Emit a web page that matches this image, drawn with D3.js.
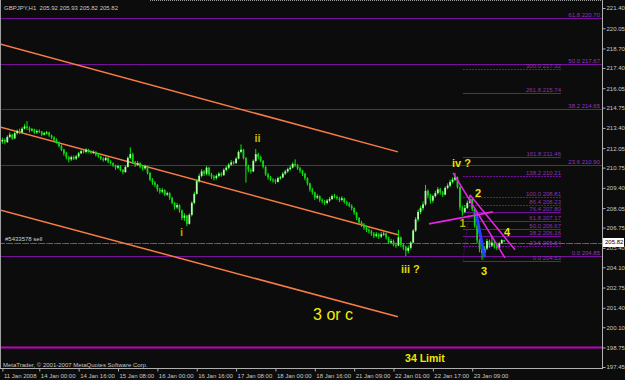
<!DOCTYPE html>
<html>
<head>
<meta charset="utf-8">
<script src="https://cdn.jsdelivr.net/npm/d3@7"></script>
<style>
html, body { margin: 0; padding: 0; background: #0b0c0b; }
svg { display: block; font-family: "Liberation Sans", Arial, sans-serif; }
</style>
</head>
<body>
<div id="chart"></div>
<script>

// ---- bars (GBPJPY H1), open = previous close ----
var firstOpen = 212.50;

var closes = [
	212.60,212.45,212.80,212.95,212.70,213.05,213.20,213.10,213.35,213.50,
	213.40,213.25,213.30,213.10,213.20,213.15,212.95,213.05,213.10,212.90,
	212.75,212.60,212.45,212.20,211.95,211.70,211.45,211.30,211.45,211.35,
	211.50,211.70,211.85,211.80,211.95,211.85,211.75,211.80,211.60,211.50,
	211.35,211.25,211.40,211.15,211.05,210.90,210.75,210.85,210.60,210.45,
	210.80,211.40,211.65,211.10,210.95,211.05,210.80,210.70,210.85,210.40,
	209.95,209.75,209.60,209.30,209.15,209.25,208.95,209.05,208.75,208.40,
	208.10,208.25,207.90,207.40,207.55,207.00,207.60,208.40,209.00,209.85,
	210.20,210.50,210.35,210.75,210.30,210.15,210.05,210.20,210.35,210.25,
	210.60,210.75,210.95,211.10,211.05,211.35,211.80,211.95,211.40,210.85,
	210.60,210.50,211.20,211.65,211.45,211.20,210.80,210.30,210.10,209.95,
	209.90,209.80,210.05,210.10,210.35,210.50,210.65,210.75,211.00,210.90,
	210.70,210.55,210.35,210.05,209.70,209.30,209.10,208.75,208.85,208.60,
	208.50,208.40,208.55,208.65,208.85,208.80,208.70,208.60,208.70,208.45,
	208.35,208.20,208.05,207.75,207.40,207.10,206.95,206.75,206.60,206.50,
	206.35,206.20,206.30,206.15,206.30,206.35,206.10,205.75,205.85,205.60,
	205.55,206.10,205.60,205.45,205.20,205.40,205.75,206.55,207.30,207.80,
	208.05,208.30,209.20,208.90,208.55,208.85,209.05,209.30,209.10,208.95,
	209.40,209.55,209.80,209.95,210.10,209.45,208.10,207.80,208.05,208.40,
	208.65,208.00,206.90,205.90,205.30,205.05,205.35,205.85,205.55,205.75,
	205.50,205.40,205.70,205.92,205.82
];

var highs = [
	212.75,212.70,212.90,213.10,213.00,213.15,213.30,213.35,213.45,213.65,
	213.85,213.50,213.40,213.35,213.30,213.30,213.20,213.15,213.20,213.15,
	212.95,212.85,212.70,212.50,212.30,212.00,211.80,211.55,211.55,211.55,
	211.60,211.80,211.95,211.95,212.05,212.00,211.90,211.90,211.85,211.70,
	211.55,211.45,211.50,211.45,211.25,211.10,210.95,210.95,210.90,210.65,
	210.90,211.50,212.10,211.75,211.20,211.20,211.10,210.90,210.95,210.90,
	210.45,210.05,209.85,209.65,209.40,209.40,209.30,209.15,209.10,208.80,
	208.45,208.40,208.30,207.95,207.70,207.60,207.70,208.50,209.15,209.95,
	210.35,210.65,210.60,210.85,210.80,210.40,210.25,210.30,210.45,210.45,
	210.70,210.85,211.05,211.25,211.20,211.45,211.90,212.30,212.00,211.45,
	210.95,210.70,211.30,212.00,211.75,211.55,211.25,210.85,210.40,210.20,
	210.05,210.00,210.15,210.20,210.45,210.60,210.75,210.90,211.10,211.30,
	211.00,210.80,210.60,210.40,210.10,209.75,209.40,209.15,209.00,208.90,
	208.70,208.60,208.65,208.80,208.95,209.00,208.90,208.80,208.85,208.75,
	208.55,208.45,208.30,208.10,207.80,207.45,207.20,207.05,206.85,206.70,
	206.60,206.45,206.45,206.40,206.45,206.50,206.40,206.15,206.00,205.95,
	205.75,206.60,206.15,205.70,205.55,205.55,205.85,206.65,207.45,207.95,
	208.20,208.50,209.60,209.30,209.00,208.95,209.20,209.45,209.40,209.20,
	209.50,209.70,209.95,210.10,210.40,210.15,209.50,208.20,208.25,208.55,
	208.90,208.70,208.05,207.00,206.00,205.40,205.50,206.00,205.95,206.20,
	205.85,205.60,205.80,205.98,205.93
];

var lows = [
	212.35,212.30,212.40,212.70,212.60,212.65,212.95,213.00,213.05,213.30,
	213.25,213.10,213.15,213.00,213.00,213.05,212.85,212.90,212.95,212.80,
	212.65,212.50,212.35,212.10,211.85,211.55,211.30,211.10,211.20,211.25,
	211.25,211.40,211.65,211.70,211.70,211.75,211.65,211.65,211.50,211.40,
	211.25,211.15,211.20,211.05,210.95,210.80,210.60,210.65,210.50,210.30,
	210.40,210.75,211.30,211.00,210.80,210.85,210.70,210.55,210.60,210.30,
	209.85,209.60,209.45,209.15,209.00,209.05,208.85,208.85,208.60,208.30,
	207.95,208.00,207.75,207.25,207.20,206.85,206.95,207.50,208.30,208.95,
	209.75,210.10,210.20,210.25,210.20,210.00,209.90,209.95,210.10,210.15,
	210.20,210.50,210.65,210.85,210.95,211.00,211.30,211.70,211.30,209.75,
	210.45,210.35,210.45,211.10,211.30,211.10,210.70,210.20,209.95,209.85,
	209.75,209.65,209.75,209.95,210.05,210.25,210.40,210.55,210.70,210.80,
	210.60,210.40,210.20,209.90,209.55,209.15,208.95,208.60,208.65,208.45,
	208.35,208.25,208.30,208.45,208.60,208.70,208.60,208.45,208.50,208.35,
	208.20,208.10,207.90,207.60,207.25,206.95,206.80,206.60,206.45,206.35,
	206.20,206.05,206.10,206.00,206.05,206.20,205.95,205.65,205.65,205.50,
	205.40,205.50,205.45,205.25,204.85,205.05,205.30,205.70,206.45,207.15,
	207.65,207.90,208.20,208.70,208.35,208.40,208.75,208.95,208.95,208.80,
	208.90,209.30,209.45,209.70,209.85,209.35,207.90,207.55,207.70,208.00,
	208.35,207.85,206.75,205.70,205.10,204.60,204.90,205.25,205.40,205.45,
	205.35,205.25,205.35,205.65,205.82
];

// ---- axes ----
var timeTicks = [0, 15, 31, 47, 63, 79, 95, 111, 127, 143, 159, 175, 191];
var timeLabels = ["11 Jan 2008", "14 Jan 00:00", "14 Jan 16:00", "15 Jan 08:00", "16 Jan 00:00",
	"16 Jan 16:00", "17 Jan 08:00", "18 Jan 00:00", "18 Jan 16:00", "21 Jan 09:00",
	"22 Jan 01:00", "22 Jan 17:00", "23 Jan 09:00"];
var priceTicks = [221.40, 220.05, 218.70, 217.40, 216.05, 214.75, 213.40, 212.05, 210.75,
	209.40, 208.05, 206.75, 205.40, 204.10, 202.75, 201.40, 200.10, 198.75, 197.45];

// ---- fibonacci objects ----
var fibWideLevels = ["61.8", "50.0", "38.2", "23.6", "0.0"];
var fibWidePrices = [220.70, 217.67, 214.65, 210.90, 204.85];
var fibShortLevels = ["300.0", "261.8", "161.8", "138.2", "100.0", "86.4", "76.4", "61.8", "50.0", "38.2", "23.6", "0.0"];
var fibShortPrices = [217.32, 215.74, 211.46, 210.21, 208.81, 208.23, 207.80, 207.17, 206.67, 206.16, 205.54, 204.53];
var fibShortSpan = [187.2, 227.1];

// ---- drawings, in [bar index, price] ----
var channelLines = [
	[[-1, 219.00], [160.8, 211.80]],
	[[-1, 213.47], [160.8, 206.27]],
	[[-1, 207.93], [160.8, 200.80]]
];
var magentaLines = [
	[[183.2, 210.40], [204.3, 204.73]],
	[[190.1, 208.93], [208.4, 205.27]],
	[[173.4, 207.00], [199.4, 207.80]]
];
var blueWave = [[192.4, 207.85], [196.1, 204.75]];
var fibBaseLine = [[190.1, 208.20], [187.2, 204.53]];

var limitPrice = 198.75;
var orderPrice = 205.73;
var lastPrice = 205.82;

var waveLabels = [
	{ text: "i", i: 72.2, p: 206.20, size: 11, color: "#b8a400" },
	{ text: "ii", i: 102.5, p: 212.47, size: 11, color: "#c8b400" },
	{ text: "iii ?", i: 162.0, p: 203.70, size: 11, color: "#e2d800" },
	{ text: "iv ?", i: 182.8, p: 210.77, size: 11, color: "#e8dc00" },
	{ text: "1", i: 185.8, p: 206.77, size: 11, color: "#c0b000" },
	{ text: "2", i: 192.1, p: 208.77, size: 11, color: "#f0e400" },
	{ text: "3", i: 194.6, p: 203.57, size: 11, color: "#f0e400" },
	{ text: "4", i: 203.9, p: 206.17, size: 11, color: "#f0e400" },
	{ text: "3 or c", i: 126.3, p: 200.60, size: 16, color: "#f2ee00", normal: true },
	{ text: "34 Limit", i: 163.7, p: 197.77, size: 10.5, color: "#f0e800" }
];

// ---- chart ----
var W = 625, H = 380;
var plotRight = 602, plotBottom = 368;

var x = d3.scaleLinear().domain([0, 244]).range([2.4, 602.6]);
var y = d3.scaleLinear().domain([197.45, 221.40]).range([367, 8]);

var svg = d3.select("#chart").append("svg")
	.attr("width", W)
	.attr("height", H);

svg.append("rect").attr("width", W).attr("height", H).attr("fill", "#0b0c0b");

svg.append("clipPath").attr("id", "plot")
	.append("rect").attr("x", 0).attr("y", 0).attr("width", plotRight).attr("height", plotBottom);

var plot = svg.append("g").attr("clip-path", "url(#plot)");

var line = d3.line()
	.x(function(d) { return x(d[0]); })
	.y(function(d) { return y(d[1]); });

var fibColor = "#74109a";

// wide fib lines
plot.selectAll(".fibw").data(fibWidePrices).enter().append("line")
	.attr("x1", 0).attr("x2", plotRight)
	.attr("y1", function(d) { return Math.round(y(d)) + 0.5; })
	.attr("y2", function(d) { return Math.round(y(d)) + 0.5; })
	.attr("stroke", fibColor).attr("stroke-width", 1);

// short fib lines
var dottedLevels = { "300.0": 1, "138.2": 1, "100.0": 1, "86.4": 1, "23.6": 1 };
plot.selectAll(".fibs").data(fibShortPrices).enter().append("line")
	.attr("x1", x(fibShortSpan[0])).attr("x2", x(fibShortSpan[1]))
	.attr("y1", function(d) { return Math.round(y(d)) + 0.5; })
	.attr("y2", function(d) { return Math.round(y(d)) + 0.5; })
	.attr("stroke", fibColor).attr("stroke-width", 1)
	.attr("stroke-dasharray", function(d, i) { return dottedLevels[fibShortLevels[i]] ? "2,1" : null; });

plot.append("path").datum(fibBaseLine)
	.attr("d", line).attr("fill", "none")
	.attr("stroke", fibColor).attr("stroke-dasharray", "1,2");

// 34 limit line
plot.append("line")
	.attr("x1", 0).attr("x2", plotRight)
	.attr("y1", y(limitPrice)).attr("y2", y(limitPrice))
	.attr("stroke", "#c000c8").attr("stroke-width", 2);

// order line
plot.append("line")
	.attr("x1", 0).attr("x2", plotRight)
	.attr("y1", Math.round(y(orderPrice)) + 0.5).attr("y2", Math.round(y(orderPrice)) + 0.5)
	.attr("stroke", "#3050c0").attr("stroke-dasharray", "2,6").attr("stroke-dashoffset", -6);
plot.append("line")
	.attr("x1", 0).attr("x2", plotRight)
	.attr("y1", Math.round(y(orderPrice)) + 0.5).attr("y2", Math.round(y(orderPrice)) + 0.5)
	.attr("stroke", "#0a9a2a").attr("stroke-dasharray", "5,3");

// orange channel
plot.selectAll(".chan").data(channelLines).enter().append("path")
	.attr("d", line).attr("fill", "none")
	.attr("stroke", "#f87c48").attr("stroke-width", 1.5);

// candles
var bw = 1.8;
var candle = plot.selectAll(".bar").data(closes).enter().append("g");
candle.append("line")
	.attr("x1", function(d, i) { return x(i); })
	.attr("x2", function(d, i) { return x(i); })
	.attr("y1", function(d, i) { return y(highs[i]); })
	.attr("y2", function(d, i) { return y(lows[i]); })
	.attr("stroke", "#00f000").attr("stroke-width", 1);
candle.append("rect")
	.attr("x", function(d, i) { return x(i) - bw / 2; })
	.attr("width", bw)
	.attr("y", function(d, i) {
		var o = i ? closes[i - 1] : firstOpen;
		return y(Math.max(o, d));
	})
	.attr("height", function(d, i) {
		var o = i ? closes[i - 1] : firstOpen;
		return Math.max(1, Math.abs(y(o) - y(d)));
	})
	.attr("fill", function(d, i) {
		var o = i ? closes[i - 1] : firstOpen;
		return d >= o ? "#b0ffa8" : "#18d018";
	});

// wave 3 highlight and magenta trend lines
plot.append("path").datum(blueWave)
	.attr("d", line).attr("fill", "none")
	.attr("stroke", "#2a40ff").attr("stroke-width", 3);

plot.selectAll(".mag").data(magentaLines).enter().append("path")
	.attr("d", line).attr("fill", "none")
	.attr("stroke", "#e822e8").attr("stroke-width", 1.6);

// fib labels
svg.selectAll(".fibwl").data(fibWidePrices).enter().append("text")
	.attr("x", 600).attr("y", function(d) { return Math.round(y(d)) - 1; })
	.attr("text-anchor", "end")
	.attr("font-size", "6px").attr("fill", "#9038c0")
	.text(function(d, i) { return fibWideLevels[i] + " " + d.toFixed(2); });

svg.selectAll(".fibsl").data(fibShortPrices).enter().append("text")
	.attr("x", x(fibShortSpan[1])).attr("y", function(d) { return Math.round(y(d)) - 1; })
	.attr("text-anchor", "end")
	.attr("font-size", "6px").attr("fill", "#8834b8")
	.text(function(d, i) { return fibShortLevels[i] + " " + d.toFixed(2); });

// wave labels
svg.selectAll(".wave").data(waveLabels).enter().append("text")
	.attr("x", function(d) { return x(d.i); })
	.attr("y", function(d) { return y(d.p); })
	.attr("font-size", function(d) { return d.size + "px"; })
	.attr("font-weight", function(d) { return d.normal ? "normal" : "bold"; })
	.attr("fill", function(d) { return d.color; })
	.text(function(d) { return d.text; });

// order label, title, copyright
svg.append("text").attr("x", 5).attr("y", y(orderPrice) - 2)
	.attr("font-size", "6px").attr("fill", "#d0d0d0")
	.text("#5433578 sell");

svg.append("text").attr("x", 4).attr("y", 9.5)
	.attr("font-size", "6px").attr("fill", "#c8c8c8")
	.attr("xml:space", "preserve")
	.text("GBPJPY,H1  205.92 205.93 205.82 205.82");

svg.append("text").attr("x", 3).attr("y", 366.5)
	.attr("font-size", "6px").attr("fill", "#c8c8c8")
	.text("MetaTrader, \u00a9 2001-2007 MetaQuotes Software Corp.");

// border
svg.append("line").attr("x1", 150).attr("x2", plotRight).attr("y1", 0.5).attr("y2", 0.5)
	.attr("stroke", "#a0a0a0").attr("stroke-dasharray", "1,1");
svg.append("line").attr("x1", 0.5).attr("x2", 0.5).attr("y1", 0).attr("y2", plotBottom)
	.attr("stroke", "#a0a0a0");

// y axis
var yAxis = d3.axisRight(y).tickValues(priceTicks).tickSize(3).tickPadding(1).tickSizeOuter(0)
	.tickFormat(d3.format(".2f"));
var gy = svg.append("g").attr("transform", "translate(" + (plotRight + 0.5) + ",0)").call(yAxis);
gy.select(".domain").attr("d", "M0,0V" + (plotBottom + 0.5)).attr("stroke", "#b0b0b0");
gy.selectAll("line").attr("stroke", "#b0b0b0");
gy.selectAll("text").attr("font-size", "6px").attr("fill", "#c8c8c8").attr("font-family", null);

// x axis
var xAxis = d3.axisBottom(x).tickValues(timeTicks).tickSize(3).tickPadding(2).tickSizeOuter(0)
	.tickFormat(function(d, i) { return timeLabels[i]; });
var gx = svg.append("g").attr("transform", "translate(0," + (plotBottom + 0.5) + ")").call(xAxis);
gx.select(".domain").attr("d", "M0,0H" + (plotRight + 1)).attr("stroke", "#b0b0b0");
gx.selectAll("line").attr("stroke", "#b0b0b0");
gx.selectAll("text").attr("font-size", "6px").attr("fill", "#c8c8c8").attr("font-family", null)
	.attr("text-anchor", "start").attr("x", 1);

// last price box
svg.append("rect").attr("x", plotRight + 1).attr("y", Math.round(y(lastPrice)) - 4)
	.attr("width", 21).attr("height", 9).attr("fill", "#ffffff");
svg.append("text").attr("x", plotRight + 3).attr("y", Math.round(y(lastPrice)) + 2.2)
	.attr("font-size", "6px").attr("fill", "#000000")
	.text(lastPrice.toFixed(2));

</script>
</body>
</html>
